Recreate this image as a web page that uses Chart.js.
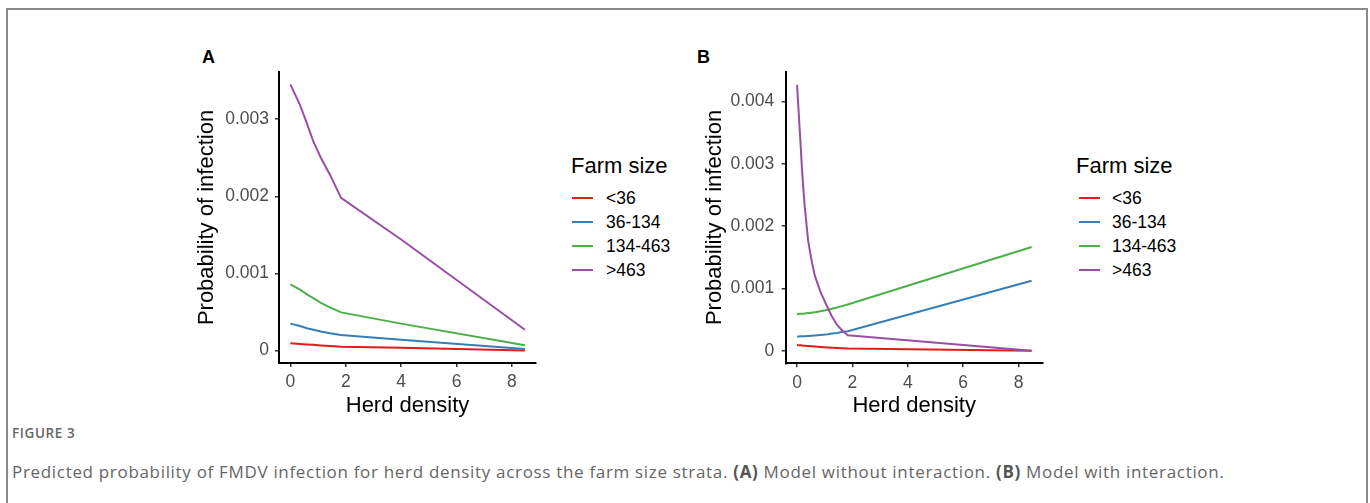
<!DOCTYPE html>
<html>
<head>
<meta charset="utf-8">
<script src="https://cdn.jsdelivr.net/npm/chart.js@4.4.0/dist/chart.umd.min.js"></script>
<style>
  body { margin: 0; width: 1370px; height: 503px; overflow: hidden; background: #fff; position: relative; font-family: "Liberation Sans", Arial, sans-serif; }
  .frame { position: absolute; left: 6px; top: 8px; width: 1358px; height: 600px; border: 2px solid #8a8a8a; border-bottom: none; }
  canvas { position: absolute; }
  .panel { position: absolute; font-weight: bold; font-size: 18px; line-height: 21px; color: #000; }
  .leg-title { position: absolute; font-size: 22px; line-height: 26px; color: #000; white-space: nowrap; }
  .leg-key { position: absolute; height: 2px; width: 21px; }
  .leg-label { position: absolute; font-size: 17.5px; line-height: 21px; color: #000; white-space: nowrap; }
  .fig { position: absolute; left: 12px; top: 424px; font-family: "Open Sans", sans-serif; font-size: 13.5px; line-height: 18px; color: #666; font-weight: 600; letter-spacing: 0.6px; }
  .caption { position: absolute; left: 12px; top: 461px; font-family: "Open Sans", sans-serif; font-size: 17px; line-height: 22px; color: #666; letter-spacing: 0.68px; white-space: nowrap; }
  .caption b { color: #555; }
</style>
</head>
<body>
<div class="frame"></div>

<div class="panel" style="left:202px; top:47px;">A</div>
<div class="panel" style="left:697px; top:47px;">B</div>

<canvas id="chartA" width="370" height="390" style="left:180px; top:40px;"></canvas>
<canvas id="chartB" width="370" height="390" style="left:680px; top:40px;"></canvas>

<div id="legendA"></div>
<div id="legendB"></div>

<div class="fig">FIGURE 3</div>
<div class="caption">Predicted probability of FMDV infection for herd density across the farm size strata. <b>(A)</b> Model without interaction. <b>(B)</b> Model with interaction.</div>

<script>
// farm size strata and their colours
const farmSizes = ["<36", "36-134", "134-463", ">463"];
const lineColors = ["#e41a1c", "#377eb8", "#4daf4a", "#984ea3"];

const xTicks = [0, 2, 4, 6, 8];
const yTicksA = [0, 0.001, 0.002, 0.003];
const yTicksB = [0, 0.001, 0.002, 0.003, 0.004];

// (A) model without interaction
const densityA = [0, 0.35, 0.6, 0.83, 1.1, 1.43, 1.83, 4, 8.47];
const probA_lt36   = [0.000095, 0.000086, 0.00008, 0.000075, 0.000068, 0.00006, 0.000052, 0.000038, 0.000003];
const probA_36_134 = [0.00035, 0.00032, 0.00029, 0.00027, 0.000248, 0.000225, 0.000203, 0.00014, 0.00002];
const probA_134_463 = [0.00086, 0.00079, 0.00073, 0.00068, 0.00062, 0.00056, 0.000496, 0.00035, 0.00007];
const probA_gt463  = [0.00345, 0.00318, 0.00294, 0.00271, 0.0025, 0.00228, 0.00198, 0.00144, 0.00027];

// (B) model with interaction
const densityB = [0, 0.06, 0.12, 0.18, 0.27, 0.4, 0.52, 0.64, 0.84, 1.12, 1.26, 1.44, 1.62, 1.83, 8.47];
const probB_lt36   = [0.000092, 0.00009, 0.000088, 0.000086, 0.000083, 0.000078, 0.000074, 0.00007, 0.000063, 0.000055, 0.000051, 0.000047, 0.000043, 0.000039, 0.000001];
const probB_36_134 = [0.000231, 0.000232, 0.000233, 0.000234, 0.000236, 0.00024, 0.000244, 0.000248, 0.000256, 0.000268, 0.000277, 0.000288, 0.000301, 0.000316, 0.001125];
const probB_134_463 = [0.00059, 0.000592, 0.000594, 0.000597, 0.0006, 0.000607, 0.000613, 0.00062, 0.000636, 0.00066, 0.000676, 0.000695, 0.000718, 0.000745, 0.001666];
const probB_gt463  = [0.00427, 0.00382, 0.00337, 0.0029, 0.00235, 0.00177, 0.00146, 0.00121, 0.00095, 0.00068, 0.00055, 0.00042, 0.00033, 0.00025, 0.000002];

const axisFont = "Liberation Sans";

function buildChart(canvasId, xs, series, yTicks, yMin, yMax, box) {
    const datasets = series.map((vals, i) => ({
        label: farmSizes[i],
        data: vals.map((v, j) => ({ x: xs[j], y: v })),
        borderColor: lineColors[i],
        backgroundColor: lineColors[i],
        borderWidth: 2,
        pointRadius: 0,
        tension: 0,
        fill: false,
        order: series.length - i
    }));

    const tickGrid = { display: true, drawOnChartArea: false, drawTicks: true, tickLength: 4, color: "#333", lineWidth: 1.5 };

    return new Chart(document.getElementById(canvasId), {
        type: "line",
        data: { datasets: datasets },
        options: {
            responsive: false,
            animation: false,
            layout: { padding: { left: 0, top: box.top, right: box.right, bottom: 0 } },
            plugins: { legend: { display: false }, tooltip: { enabled: false } },
            scales: {
                x: {
                    type: "linear",
                    min: -0.41,
                    max: 8.87,
                    afterBuildTicks: s => { s.ticks = xTicks.map(v => ({ value: v })); },
                    afterFit: s => { s.height = box.xHeight; },
                    ticks: { color: "#4d4d4d", padding: 5, font: { family: axisFont, size: 17.5 }, callback: v => String(v) },
                    grid: tickGrid,
                    border: { display: true, color: "#000", width: 2 },
                    title: { display: true, text: "Herd density", color: "#000", font: { family: axisFont, size: 22 }, padding: { top: 0, bottom: 11 } }
                },
                y: {
                    type: "linear",
                    min: yMin,
                    max: yMax,
                    afterBuildTicks: s => { s.ticks = yTicks.map(v => ({ value: v })); },
                    afterFit: s => { s.width = box.yWidth; },
                    ticks: { color: "#4d4d4d", padding: box.yPad, font: { family: axisFont, size: 17.5 }, callback: v => v === 0 ? "0" : v.toFixed(3) },
                    grid: tickGrid,
                    border: { display: true, color: "#000", width: 2 },
                    title: { display: true, text: "Probability of infection", color: "#000", font: { family: axisFont, size: 22 }, padding: { top: box.titlePad, bottom: 0 } }
                }
            }
        }
    });
}

function buildLegend(id, left, keyLeft, textLeft) {
    const el = document.getElementById(id);
    let html = `<div class="leg-title" style="left:${left}px; top:153px;">Farm size</div>`;
    farmSizes.forEach((name, i) => {
        const cy = 198 + i * 24;
        html += `<div class="leg-key" style="left:${keyLeft}px; top:${cy - 1}px; background:${lineColors[i]};"></div>`;
        html += `<div class="leg-label" style="left:${textLeft}px; top:${cy - 10}px;">${name.replace("<", "&lt;").replace(">", "&gt;")}</div>`;
    });
    el.innerHTML = html;
}

buildChart("chartA", densityA, [probA_lt36, probA_36_134, probA_134_463, probA_gt463], yTicksA, -0.00016, 0.00361,
    { top: 32, right: 14, xHeight: 67, yWidth: 99, yPad: 6, titlePad: 13.5 });
buildChart("chartB", densityB, [probB_lt36, probB_36_134, probB_134_463, probB_gt463], yTicksB, -0.0002, 0.00448,
    { top: 31.7, right: 7.3, xHeight: 66.7, yWidth: 105.7, yPad: 7.5, titlePad: 21.8 });

buildLegend("legendA", 571, 572, 606);
buildLegend("legendB", 1076, 1079, 1112);
</script>
</body>
</html>
